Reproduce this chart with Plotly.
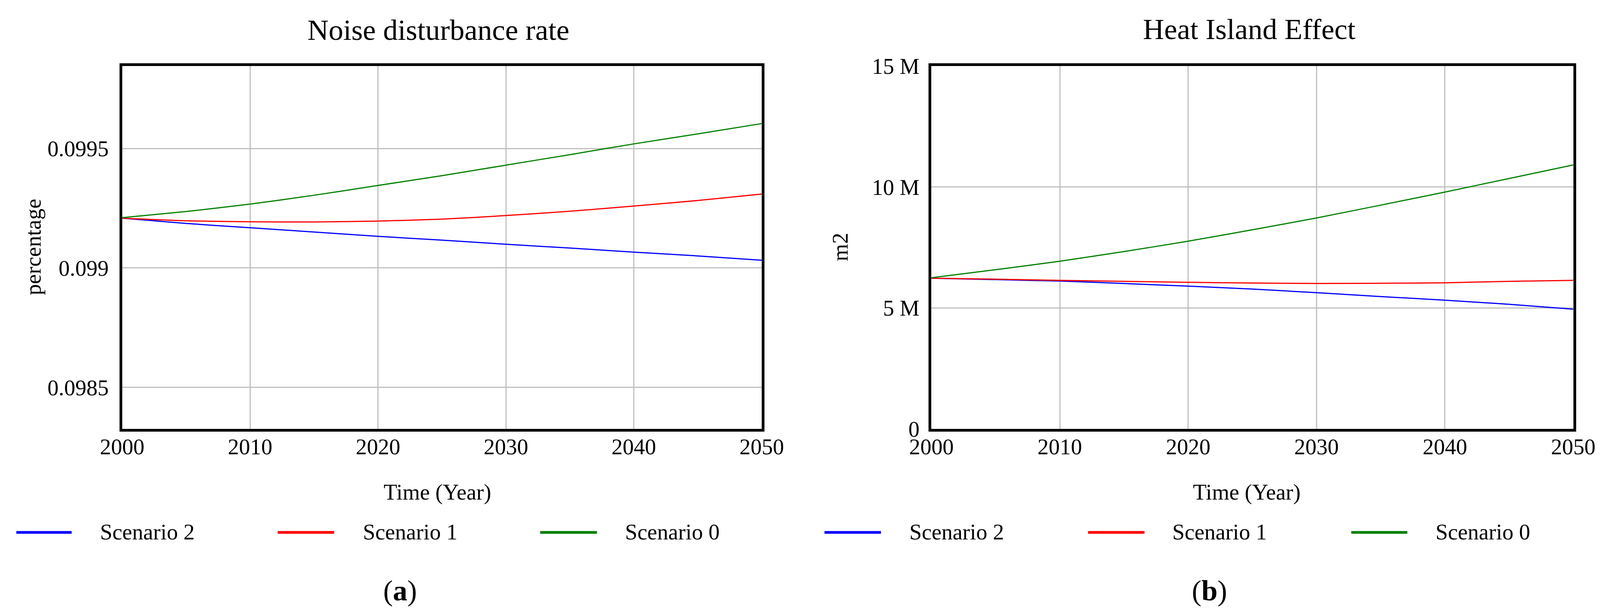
import plotly.graph_objects as go

# ---------------- data ----------------
years = [2000, 2005, 2010, 2015, 2020, 2025, 2030, 2035, 2040, 2045, 2050]
series_names = ["Scenario 2", "Scenario 1", "Scenario 0"]
series_colors = ["#0000ff", "#ff0000", "#008000"]

# (a) Noise disturbance rate (percentage)
noise_s2 = [0.099208, 0.099186, 0.099168, 0.099150, 0.099132, 0.099116, 0.099099, 0.099083, 0.099066, 0.099050, 0.099032]
noise_s1 = [0.099208, 0.099197, 0.099193, 0.099192, 0.099196, 0.099204, 0.099219, 0.099237, 0.099259, 0.099282, 0.099309]
noise_s0 = [0.099210, 0.099236, 0.099267, 0.099304, 0.099345, 0.099386, 0.099430, 0.099474, 0.099519, 0.099561, 0.099604]

# (b) Heat Island Effect (m2)
heat_s2 = [6.23e6, 6.17e6, 6.11e6, 6.01e6, 5.90e6, 5.78e6, 5.63e6, 5.47e6, 5.32e6, 5.15e6, 4.95e6]
heat_s1 = [6.23e6, 6.19e6, 6.14e6, 6.10e6, 6.06e6, 6.03e6, 6.01e6, 6.02e6, 6.04e6, 6.10e6, 6.14e6]
heat_s0 = [6.25e6, 6.58e6, 6.93e6, 7.33e6, 7.76e6, 8.23e6, 8.72e6, 9.25e6, 9.79e6, 10.35e6, 10.91e6]

x_ticks = [2000, 2010, 2020, 2030, 2040, 2050]
noise_ticks = [0.0985, 0.099, 0.0995]
noise_ticktext = ["0.0985", "0.099", "0.0995"]
heat_ticks = [0, 5e6, 10e6, 15e6]
heat_ticktext = ["0", "5 M", "10 M", "15 M"]

titles = ["Noise disturbance rate", "Heat Island Effect"]
y_titles = ["percentage", "m2"]
x_title = "Time (Year)"
captions = ["a", "b"]

# ---------------- layout helpers ----------------
# positions below are measured on the 4310 x 1577 reference and used as paper fractions
REF_W, REF_H = 4310, 1577
FIG_W, FIG_H = 4096, 1577          # visible browser viewport
FONT = "Liberation Serif"
FS = 57


def px(x):
    return x / REF_W


def py(y):
    return 1 - y / REF_H


fig = go.Figure()

panels = [
    dict(xa="x", ya="y", data=[noise_s2, noise_s1, noise_s0]),
    dict(xa="x2", ya="y2", data=[heat_s2, heat_s1, heat_s0]),
]
for p in panels:
    for name, col, vals in zip(series_names, series_colors, p["data"]):
        fig.add_trace(go.Scatter(
            x=years, y=vals, name=name, mode="lines",
            line=dict(color=col, width=3, shape="spline", smoothing=0.6),
            xaxis=p["xa"], yaxis=p["ya"], showlegend=False,
        ))

axis_common = dict(
    showgrid=True, gridcolor="#c0c0c0", gridwidth=2.5,
    showline=True, mirror=True, linecolor="black", linewidth=7,
    zeroline=False, ticks="", automargin=False,
    tickfont=dict(family=FONT, size=FS, color="black"),
)

y_dom = [py(1098), py(169)]
fig.update_layout(
    width=FIG_W, height=FIG_H,
    margin=dict(l=0, r=0, t=0, b=0),
    paper_bgcolor="white", plot_bgcolor="white",
    showlegend=False,
    xaxis=dict(domain=[px(329), px(2052)], range=[2000, 2050], tickvals=x_ticks,
               anchor="y", ticklabelstandoff=-10, **axis_common),
    yaxis=dict(domain=y_dom, range=[0.098326, 0.099845], tickvals=noise_ticks,
               ticktext=noise_ticktext, anchor="x", ticklabelstandoff=16, **axis_common),
    xaxis2=dict(domain=[px(2509), px(4238)], range=[2000, 2050], tickvals=x_ticks,
                anchor="y2", ticklabelstandoff=-10, **axis_common),
    yaxis2=dict(domain=y_dom, range=[0, 15e6], tickvals=heat_ticks,
                ticktext=heat_ticktext, anchor="x2", ticklabelstandoff=12, **axis_common),
)

annotations = []
shapes = []

# titles
for t, cx, cy in zip(titles, [1181, 3365], [76, 74]):
    annotations.append(dict(text=t, x=px(cx), y=py(cy), xref="paper", yref="paper",
                            xanchor="center", yanchor="middle", showarrow=False,
                            font=dict(family=FONT, size=75, color="black")))
# y axis titles
for t, cx in zip(y_titles, [88, 2262]):
    annotations.append(dict(text=t, x=px(cx), y=py(632), xref="paper", yref="paper",
                            xanchor="center", yanchor="middle", showarrow=False, textangle=-90,
                            font=dict(family=FONT, size=FS, color="black")))
# x axis titles
for cx in [1178, 3359]:
    annotations.append(dict(text=x_title, x=px(cx), y=py(1260), xref="paper", yref="paper",
                            xanchor="center", yanchor="middle", showarrow=False,
                            font=dict(family=FONT, size=FS, color="black")))

# legends (one row per panel)
legend_line_x = [[(44, 193), (748, 900), (1455, 1608)],
                 [(2221, 2373), (2931, 3083), (3640, 3791)]]
legend_text_x = [[267, 975, 1681], [2448, 3156, 3865]]
for lines, texts in zip(legend_line_x, legend_text_x):
    for (x0, x1), tx, name, col in zip(lines, texts, series_names, series_colors):
        shapes.append(dict(type="line", xref="paper", yref="paper",
                           x0=px(x0), x1=px(x1), y0=py(1363), y1=py(1363),
                           line=dict(color=col, width=7)))
        annotations.append(dict(text=name, x=px(tx), y=py(1361), xref="paper", yref="paper",
                                xanchor="left", yanchor="middle", showarrow=False,
                                font=dict(family=FONT, size=FS, color="black")))

# captions
for c, cx in zip(captions, [1077, 3258]):
    annotations.append(dict(text="(<b>" + c + "</b>)", x=px(cx), y=py(1512), xref="paper", yref="paper",
                            xanchor="center", yanchor="middle", showarrow=False,
                            font=dict(family=FONT, size=74, color="black")))

fig.update_layout(annotations=annotations, shapes=shapes)

# remove the default page margin so the figure starts at the window corner
js = "document.body.style.margin='0';document.body.style.overflow='hidden';"
fig.write_html("out.html", post_script=js, config={"displayModeBar": False})
